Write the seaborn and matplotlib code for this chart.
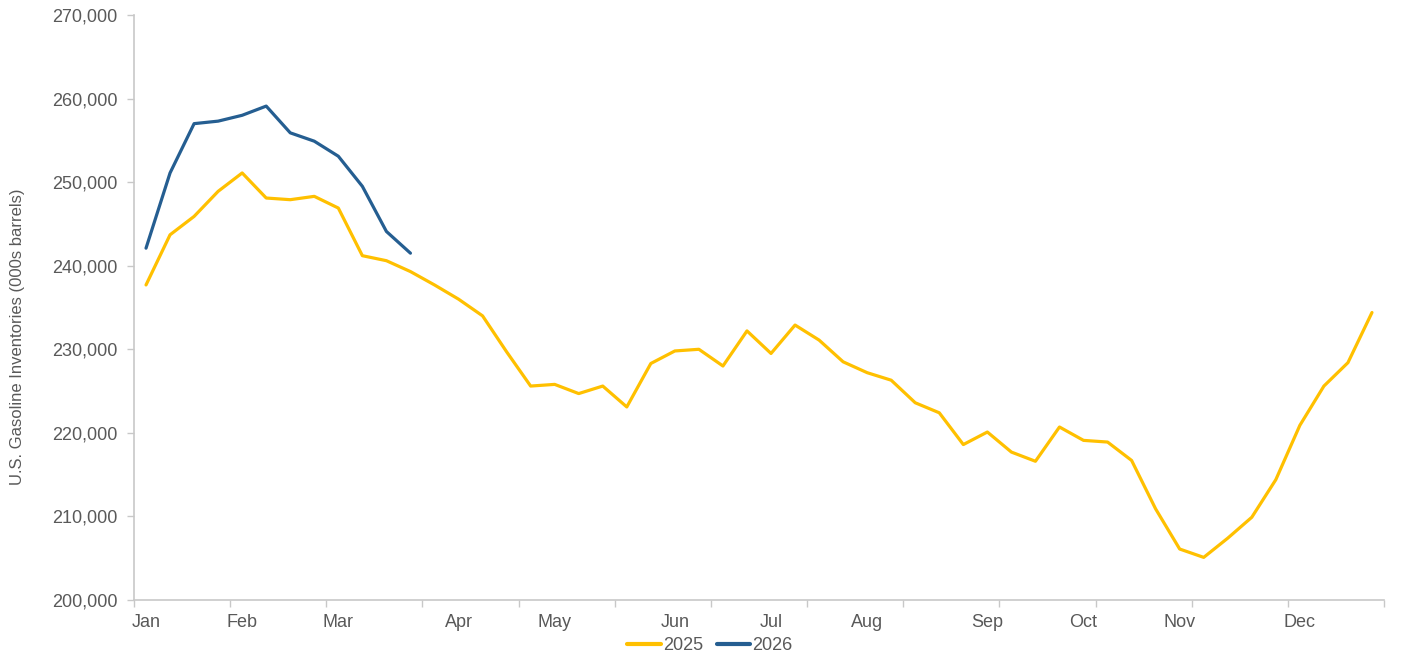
import numpy as np
import pandas as pd
import matplotlib
matplotlib.use("Agg")
import matplotlib.pyplot as plt
import seaborn as sns
from matplotlib.ticker import FuncFormatter, FixedLocator
from matplotlib.lines import Line2D

# ---- data (thousand barrels, weekly) ----
inv_2025 = [237.7, 243.7, 245.9, 248.9, 251.1, 248.1, 247.9, 248.3, 246.9, 241.2,
            240.6, 239.3, 237.7, 236.0, 234.0, 229.7, 225.6, 225.8, 224.7, 225.6,
            223.1, 228.3, 229.8, 230.0, 228.0, 232.2, 229.5, 232.9, 231.1, 228.5,
            227.2, 226.3, 223.6, 222.4, 218.6, 220.1, 217.7, 216.6, 220.7, 219.1,
            218.9, 216.7, 210.9, 206.1, 205.1, 207.4, 209.9, 214.4, 220.9, 225.6,
            228.4, 234.4]
inv_2026 = [242.1, 251.1, 257.0, 257.3, 258.0, 259.1, 255.9, 254.9, 253.1, 249.5,
            244.1, 241.5]
month_labels = ["Jan", "Feb", "Mar", "Apr", "May", "Jun", "Jul", "Aug", "Sep",
                "Oct", "Nov", "Dec"]
month_label_weeks = [0, 4, 8, 13, 17, 22, 26, 30, 35, 39, 43, 48]
years = ["2025", "2026"]
colors = ["#FFC000", "#255E91"]

df = pd.concat([
    pd.DataFrame({"week": np.arange(len(inv_2025)), "value": np.array(inv_2025) * 1000, "year": "2025"}),
    pd.DataFrame({"week": np.arange(len(inv_2026)), "value": np.array(inv_2026) * 1000, "year": "2026"}),
])

sns.set_theme(style="white")
plt.rcParams["font.family"] = ["Liberation Sans", "DejaVu Sans"]
text_color = "#595959"
axis_color = "#C8C8C8"

fig = plt.figure(figsize=(14.21, 6.6), dpi=100)
ax = fig.add_axes([134 / 1421, 60 / 660, (1384 - 134) / 1421, 585 / 660])

sns.lineplot(data=df, x="week", y="value", hue="year", hue_order=years,
             palette=dict(zip(years, colors)), linewidth=2.3, ax=ax,
             legend=False, sort=False)

ax.set_xlim(-0.5, 51.5)
ax.set_ylim(200000, 270000)
ax.set_yticks(np.arange(200000, 270001, 10000))
ax.yaxis.set_major_formatter(FuncFormatter(lambda v, p: f"{int(v):,}"))

ax.xaxis.set_major_locator(FixedLocator(np.arange(-0.5, 52, 4)))
ax.xaxis.set_major_formatter(FuncFormatter(lambda v, p: ""))
ax.set_xticks(month_label_weeks, minor=True)
ax.set_xticklabels(month_labels, minor=True)
ax.tick_params(axis="x", which="major", length=5, width=1, color=axis_color, direction="out")
ax.tick_params(axis="x", which="minor", length=0, pad=10, labelsize=13, labelcolor=text_color)
ax.tick_params(axis="y", which="major", length=5, width=1, color=axis_color, direction="out",
               labelsize=13, labelcolor=text_color, pad=7)
ax.tick_params(axis="both", bottom=True, left=True)

for side in ["top", "right"]:
    ax.spines[side].set_visible(False)
for side in ["left", "bottom"]:
    ax.spines[side].set_color(axis_color)
    ax.spines[side].set_linewidth(1.2)

ax.set_xlabel("")
ax.set_ylabel("")
fig.text(18 / 1421, 1 - 337 / 660, "U.S. Gasoline Inventories (000s barrels)",
         rotation=90, va="center", ha="center", fontsize=12, color=text_color)

handles = [Line2D([0], [0], color=c, lw=3) for c in colors]
fig.legend(handles, years, loc="center", bbox_to_anchor=(710 / 1421, 1 - 646 / 660),
           ncol=2, frameon=False, fontsize=13, handlelength=1.85, handletextpad=0.12,
           columnspacing=0.75, labelcolor=text_color, borderpad=0, borderaxespad=0)

fig.savefig("out.png", dpi=100)
